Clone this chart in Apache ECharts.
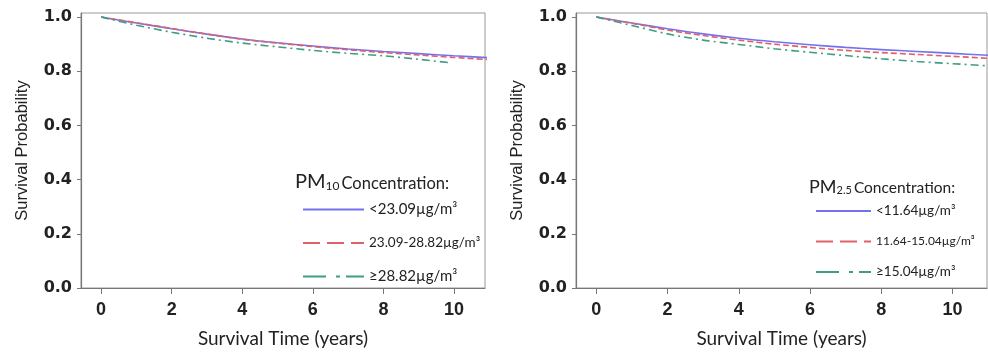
<!DOCTYPE html>
<html>
<head>
<meta charset="utf-8">
<script src="https://cdn.jsdelivr.net/npm/echarts@6/dist/echarts.min.js"></script>
<style>html,body{margin:0;padding:0;background:#fff;}#chart{width:988px;height:353px;}</style>
</head>
<body>
<div id="chart"></div>
<script>
// ---- data ----
const xTicks = [0, 2, 4, 6, 8, 10];
const yTicks = [0, 0.2, 0.4, 0.6, 0.8, 1.0];
const yearsAll = [0, 1, 2, 3, 4, 5, 6, 7, 8, 9, 10, 11];
const yearsPM10High = [0, 1, 2, 3, 4, 5, 6, 7, 8, 9, 9.9];

const pm10Names = ['<23.09µg/m³', '23.09-28.82µg/m³', '≥28.82µg/m³'];
const pm10Low  = [1.0, 0.978, 0.957, 0.937, 0.919, 0.905, 0.893, 0.882, 0.873, 0.865, 0.857, 0.850];
const pm10Mid  = [1.0, 0.979, 0.958, 0.937, 0.918, 0.904, 0.891, 0.879, 0.869, 0.860, 0.851, 0.843];
const pm10High = [1.0, 0.970, 0.944, 0.922, 0.904, 0.890, 0.877, 0.866, 0.857, 0.844, 0.831];

const pm25Names = ['<11.64µg/m³', '11.64-15.04µg/m³', '≥15.04µg/m³'];
const pm25Low  = [1.0, 0.978, 0.957, 0.938, 0.922, 0.909, 0.898, 0.888, 0.880, 0.873, 0.866, 0.859];
const pm25Mid  = [1.0, 0.977, 0.952, 0.932, 0.915, 0.900, 0.888, 0.877, 0.869, 0.862, 0.855, 0.848];
const pm25High = [1.0, 0.969, 0.938, 0.915, 0.899, 0.883, 0.870, 0.858, 0.846, 0.836, 0.828, 0.820];

// ---- styles ----
const BLUE = '#7272f0', RED = '#e0606a', GREEN = '#3f9c86';
const pairs = (xs, ys) => ys.map((v, i) => [xs[i], v]);

const lineStyles = [
  { color: BLUE, width: 1.6, type: 'solid' },
  { color: RED, width: 1.6, type: [6, 3] },
  { color: GREEN, width: 1.6, type: [8, 4, 2, 4] }
];
const legendLineStyles = [
  { color: BLUE, width: 2, type: 'solid' },
  { color: RED, width: 2, type: [17, 7] },
  { color: GREEN, width: 2, type: [23, 10, 4, 6] }
];

function xAxis(gi, max) {
  return {
    type: 'value', gridIndex: gi, min: -0.57, max: max,
    name: 'Survival Time (years)', nameLocation: 'middle', nameGap: 41,
    nameTextStyle: { fontFamily: 'Lato', fontSize: 19, color: '#222' },
    axisLine: { show: true, onZero: false, lineStyle: { color: '#777', width: 1.2 } },
    axisTick: { show: true, customValues: xTicks, length: 6, lineStyle: { color: '#777' } },
    axisLabel: { customValues: xTicks, margin: 13, fontFamily: 'Liberation Sans', fontWeight: 'bold', fontSize: 18, color: '#222' },
    splitLine: { show: false }
  };
}
function yAxis(gi) {
  return {
    type: 'value', gridIndex: gi, min: 0, max: 1.015,
    name: 'Survival Probability', nameLocation: 'middle', nameGap: 50, nameRotate: 90,
    nameTextStyle: { fontFamily: 'Liberation Sans', fontSize: 16.5, color: '#222' },
    axisLine: { show: true, onZero: false, lineStyle: { color: '#777', width: 1.2 } },
    axisTick: { show: true, customValues: yTicks, length: 4, lineStyle: { color: '#777' } },
    axisLabel: { customValues: yTicks, margin: 9, fontFamily: 'DejaVu Sans', fontWeight: 'bold', fontSize: 16, color: '#222',
      formatter: v => v.toFixed(1) },
    splitLine: { show: false }
  };
}
function mkSeries(names, xsList, ysList, gi) {
  return names.map((n, i) => ({
    name: n, type: 'line', xAxisIndex: gi, yAxisIndex: gi,
    data: pairs(xsList[i], ysList[i]), showSymbol: false, symbol: 'none',
    smooth: 0.3, lineStyle: lineStyles[i], itemStyle: { color: lineStyles[i].color },
    animation: false
  }));
}

const chart = echarts.init(document.getElementById('chart'), null, { renderer: 'canvas' });
chart.setOption({
  animation: false,
  backgroundColor: '#fff',
  grid: [
    { left: 81, top: 13, width: 404, height: 275, show: true, borderColor: '#999', borderWidth: 1, backgroundColor: 'transparent' },
    { left: 576, top: 13, width: 411, height: 275, show: true, borderColor: '#999', borderWidth: 1, backgroundColor: 'transparent' }
  ],
  xAxis: [xAxis(0, 10.88), xAxis(1, 10.97)],
  yAxis: [yAxis(0), yAxis(1)],
  title: [
    { left: 290, top: 165, text: '{pm|PM}{sub|10}{c|Concentration:}',
      textStyle: { fontWeight: 'normal', rich: {
        pm: { fontFamily: 'Lato', fontWeight: 'normal', fontSize: 20, color: '#222', lineHeight: 22, verticalAlign: 'bottom' },
        sub: { fontFamily: 'Lato', fontWeight: 'normal', fontSize: 12, color: '#222', lineHeight: 10, verticalAlign: 'bottom', padding: [0, 2, 0, 0] },
        c: { fontFamily: 'Lato', fontWeight: 'normal', fontSize: 16.5, color: '#222', lineHeight: 20, verticalAlign: 'bottom' }
      } } },
    { left: 804, top: 171, text: '{pm|PM}{sub|2.5}{c|Concentration:}',
      textStyle: { fontWeight: 'normal', rich: {
        pm: { fontFamily: 'Lato', fontWeight: 'normal', fontSize: 18, color: '#222', lineHeight: 20, verticalAlign: 'bottom' },
        sub: { fontFamily: 'Lato', fontWeight: 'normal', fontSize: 11, color: '#222', lineHeight: 9, verticalAlign: 'bottom', padding: [0, 2, 0, 0] },
        c: { fontFamily: 'Lato', fontWeight: 'normal', fontSize: 15.5, color: '#222', lineHeight: 18, verticalAlign: 'bottom' }
      } } }
  ],
  legend: [
    { orient: 'vertical', left: 297, top: 197, itemWidth: 61, itemHeight: 14, itemGap: 19, itemTextGap: 9,
      selectedMode: false, itemStyle: { opacity: 0, borderWidth: 0 },
      textStyle: { fontFamily: 'Lato', fontSize: 15, color: '#222', lineHeight: 14, width: 116, align: 'center' },
      data: pm10Names.map((n, i) => ({ name: n, lineStyle: legendLineStyles[i], itemStyle: { opacity: 0, borderWidth: 0 },
        textStyle: i === 1 ? { fontSize: 13.5 } : {} })) },
    { orient: 'vertical', left: 810, top: 199, itemWidth: 55, itemHeight: 14, itemGap: 16.5, itemTextGap: 9,
      selectedMode: false, itemStyle: { opacity: 0, borderWidth: 0 },
      textStyle: { fontFamily: 'Lato', fontSize: 13.5, color: '#222', lineHeight: 14, width: 103, align: 'center' },
      data: pm25Names.map((n, i) => ({ name: n, lineStyle: legendLineStyles[i], itemStyle: { opacity: 0, borderWidth: 0 },
        textStyle: i === 1 ? { fontSize: 12 } : {} })) }
  ],
  series: [
    ...mkSeries(pm10Names, [yearsAll, yearsAll, yearsPM10High], [pm10Low, pm10Mid, pm10High], 0),
    ...mkSeries(pm25Names, [yearsAll, yearsAll, yearsAll], [pm25Low, pm25Mid, pm25High], 1)
  ]
});
</script>
</body>
</html>
